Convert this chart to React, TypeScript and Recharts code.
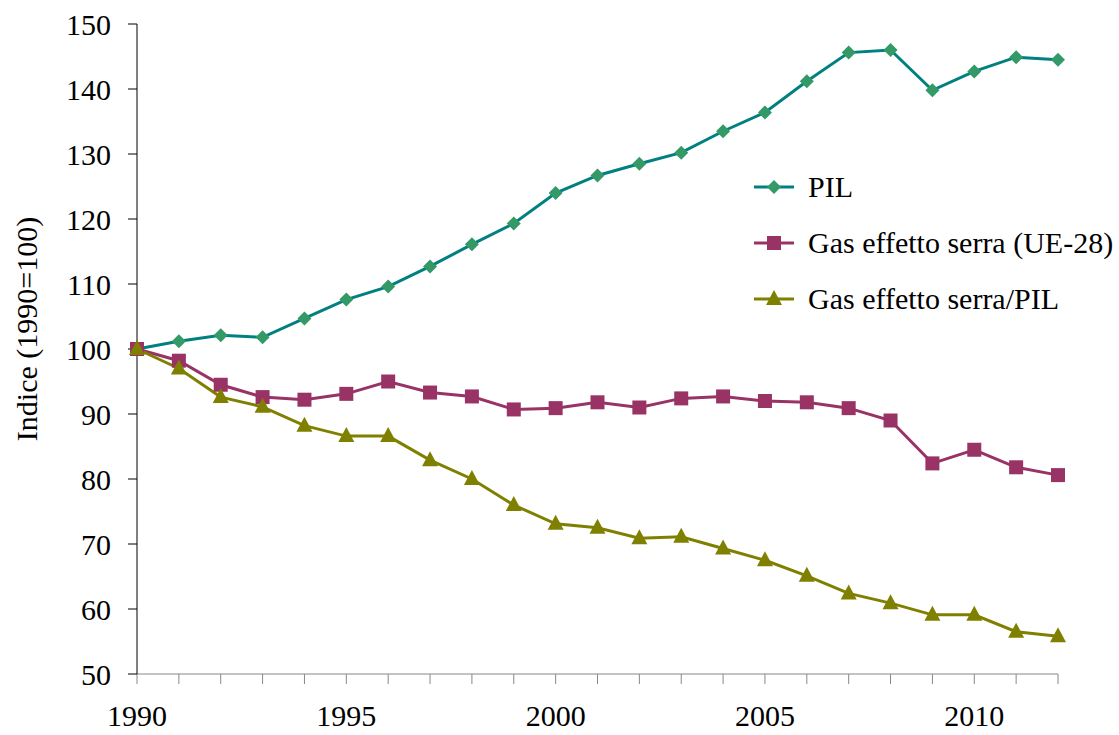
import React from "react";
import { Line, LineChart, XAxis, YAxis } from "recharts";

const years = [
  1990, 1991, 1992, 1993, 1994, 1995, 1996, 1997, 1998, 1999, 2000, 2001, 2002, 2003, 2004, 2005, 2006,
  2007, 2008, 2009, 2010, 2011, 2012,
];
const pil = [
  100, 101.2, 102.1, 101.8, 104.7, 107.6, 109.6, 112.7, 116.1, 119.3, 124.0, 126.7, 128.5, 130.2, 133.5,
  136.4, 141.2, 145.6, 146.0, 139.8, 142.7, 144.9, 144.5,
];
const gas = [
  100, 98.2, 94.5, 92.6, 92.2, 93.1, 95.0, 93.3, 92.7, 90.7, 90.9, 91.8, 91.0, 92.4, 92.7, 92.0, 91.8,
  90.9, 89.0, 82.4, 84.5, 81.8, 80.6,
];
const gasPil = [
  100, 97.0, 92.6, 91.1, 88.2, 86.6, 86.6, 82.9, 80.0, 76.0, 73.1, 72.5, 70.9, 71.1, 69.3, 67.5, 65.1,
  62.4, 60.9, 59.1, 59.1, 56.5, 55.8,
];
const yTicks = [50, 60, 70, 80, 90, 100, 110, 120, 130, 140, 150];

const data = years.map((y, i) => ({ year: y, pil: pil[i], gas: gas[i], gasPil: gasPil[i] }));

const FONT = "'Liberation Serif', 'Times New Roman', serif";
const FS = 30;

const Diamond = ({ cx, cy, fill }: any) => (
  <polygon points={`${cx},${cy - 7} ${cx + 7},${cy} ${cx},${cy + 7} ${cx - 7},${cy}`} fill={fill} />
);
const Square = ({ cx, cy, fill }: any) => <rect x={cx - 7} y={cy - 7} width={14} height={14} fill={fill} />;
const Triangle = ({ cx, cy, fill }: any) => (
  <polygon points={`${cx},${cy - 9} ${cx + 8},${cy + 6} ${cx - 8},${cy + 6}`} fill={fill} />
);

const series = [
  { key: "pil", name: "PIL", line: "#008080", marker: "#339966", Shape: Diamond },
  { key: "gas", name: "Gas effetto serra (UE-28)", line: "#993366", marker: "#993366", Shape: Square },
  { key: "gasPil", name: "Gas effetto serra/PIL", line: "#808000", marker: "#808000", Shape: Triangle },
];

function LegendBox() {
  return (
    <div
      style={{ position: "absolute", left: 752, top: 159, fontFamily: FONT, fontSize: FS, color: "#000" }}
    >
      {series.map((s) => (
        <div key={s.key} style={{ display: "flex", alignItems: "center", height: 56, whiteSpace: "nowrap" }}>
          <svg width={44} height={20} style={{ marginRight: 12 }}>
            <line x1={2} y1={10} x2={42} y2={10} stroke={s.line} strokeWidth={3} />
            <s.Shape cx={22} cy={10} fill={s.marker} />
          </svg>
          <span>{s.name}</span>
        </div>
      ))}
    </div>
  );
}

export default function App() {
  return (
    <div style={{ position: "absolute", left: 0, top: 0, width: 1119, height: 735, background: "#fff" }}>
      <LineChart
        width={1119}
        height={735}
        data={data}
        margin={{ top: 24, right: 61, left: 0, bottom: 0 }}
        style={{ fontFamily: FONT }}
      >
        <XAxis
          dataKey="year"
          type="number"
          domain={[1990, 2012]}
          ticks={years}
          interval={0}
          height={61}
          tickFormatter={(v) => (v % 5 === 0 ? String(v) : "")}
          stroke="#888"
          tickSize={10}
          tickMargin={21}
          tick={{ fill: "#000", fontSize: FS, fontFamily: FONT }}
        />
        <YAxis
          domain={[50, 150]}
          ticks={yTicks}
          interval={0}
          width={137}
          stroke="#000"
          tickSize={9}
          tickMargin={17}
          tick={{ fill: "#000", fontSize: FS, fontFamily: FONT }}
        />
        {series.map((s) => (
          <Line
            key={s.key}
            dataKey={s.key}
            name={s.name}
            stroke={s.line}
            strokeWidth={3}
            isAnimationActive={false}
            dot={(p: any) => <s.Shape key={`${s.key}-${p.index}`} cx={p.cx} cy={p.cy} fill={s.marker} />}
            activeDot={false}
          />
        ))}
      </LineChart>
      <LegendBox />
      <div
        style={{
          position: "absolute",
          left: 27,
          top: 329,
          transform: "translate(-50%, -50%) rotate(-90deg)",
          fontFamily: FONT,
          fontSize: FS,
          whiteSpace: "nowrap",
          color: "#000",
        }}
      >
        Indice (1990=100)
      </div>
    </div>
  );
}
